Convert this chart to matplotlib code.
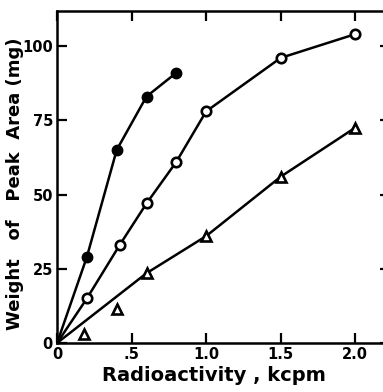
import matplotlib.pyplot as plt

# filled circles
filled_x = [0.2, 0.4, 0.6, 0.8]
filled_y = [29, 65, 83, 91]

# open circles
open_x = [0.2, 0.42, 0.6, 0.8, 1.0, 1.5, 2.0]
open_y = [15, 33, 47, 61, 78, 96, 104]

# open triangles
tri_x = [0.18, 0.4, 0.6, 1.0, 1.5, 2.0]
tri_y = [3, 11.5, 23.5, 36, 56, 72.5]

x_ticks = [0, 0.5, 1.0, 1.5, 2.0]
x_ticklabels = ['0', '.5', '1.0', '1.5', '2.0']
y_ticks = [0, 25, 50, 75, 100]
y_ticklabels = ['0', '25', '50', '75', '100']


def main():
    plt.rcParams['font.family'] = ['DejaVu Sans']
    plt.rcParams['font.weight'] = 'bold'

    fig = plt.figure(figsize=(3.83, 3.92), dpi=100)
    ax = fig.add_axes([0.149, 0.125, 0.87, 0.847])

    # lines all start from the origin
    ax.plot([0] + filled_x, [0] + filled_y, color='k', lw=1.8, zorder=2)
    ax.plot([0] + open_x, [0] + open_y, color='k', lw=1.8, zorder=2)
    ax.plot([0] + tri_x[2:], [0] + tri_y[2:], color='k', lw=1.8, zorder=2)

    ax.plot(filled_x, filled_y, 'o', ms=7.5, mfc='k', mec='k', zorder=3)
    ax.plot(open_x, open_y, 'o', ms=6.8, mfc='white', mec='k', mew=1.9, zorder=3)
    ax.plot(tri_x, tri_y, '^', ms=7, mfc='white', mec='k', mew=1.9, zorder=3)

    ax.set_xlim(0, 2.235)
    ax.set_ylim(0, 111.8)
    ax.set_xticks(x_ticks)
    ax.set_xticklabels(x_ticklabels)
    ax.set_yticks(y_ticks)
    ax.set_yticklabels(y_ticklabels)
    ax.tick_params(direction='in', length=7, width=1.6, labelsize=10.5,
                   top=True, right=True, pad=3)
    for s in ax.spines.values():
        s.set_linewidth(1.8)

    ax.set_xlabel('Radioactivity , kcpm', fontsize=14, fontweight='bold')
    ax.xaxis.set_label_coords(0.47, -0.07)
    ax.set_ylabel('Weight   of   Peak  Area (mg)', fontsize=13, fontweight='bold')
    ax.yaxis.set_label_coords(-0.1, 0.48)

    plt.savefig('out.png', dpi=100)


if __name__ == '__main__':
    main()
